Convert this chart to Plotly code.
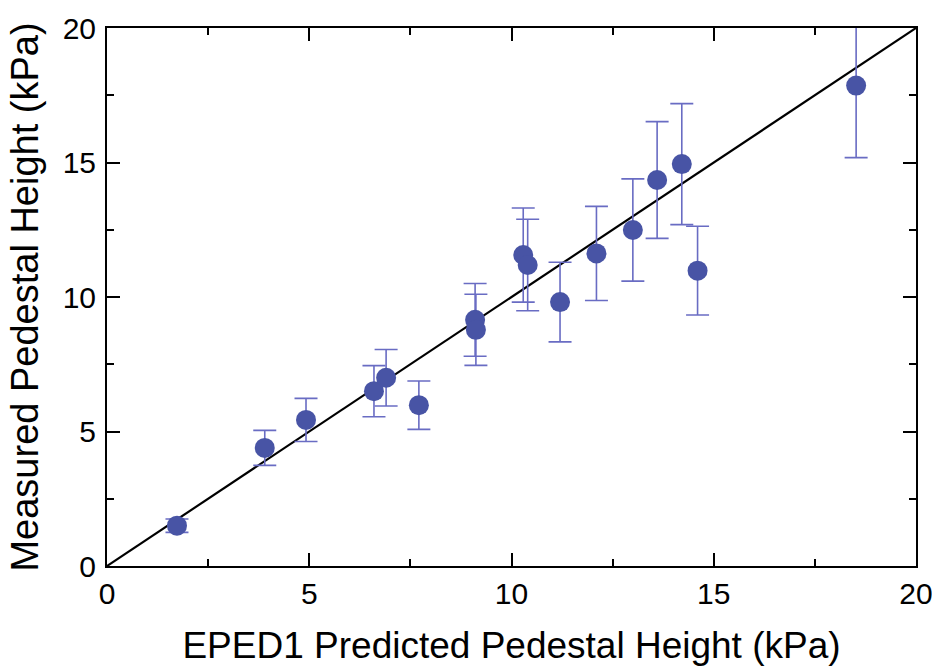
import plotly.graph_objects as go

predicted = [1.73, 3.9, 4.92, 6.6, 6.9, 7.71, 9.1, 9.12, 10.29, 10.4, 11.2, 12.1, 13.0, 13.6, 14.21, 14.6, 18.52]
measured = [1.5, 4.39, 5.43, 6.5, 7.0, 5.98, 9.15, 8.78, 11.56, 11.19, 9.81, 11.62, 12.49, 14.35, 14.94, 10.98, 17.86]
errors = [0.25, 0.65, 0.8, 0.95, 1.05, 0.9, 1.35, 1.32, 1.75, 1.7, 1.48, 1.75, 1.9, 2.17, 2.25, 1.65, 2.68]
line_x = [0, 20]
line_y = [0, 20]

FONT = "Liberation Sans, Arial, Helvetica, sans-serif"

fig = go.Figure()
fig.add_trace(go.Scatter(
    x=line_x, y=line_y, mode="lines",
    line=dict(color="black", width=2.2), showlegend=False, hoverinfo="skip"))
fig.add_trace(go.Scatter(
    x=predicted, y=measured, mode="markers",
    marker=dict(size=20, color="rgb(72,84,165)"),
    error_y=dict(type="data", array=errors, visible=True,
                 color="rgb(105,108,195)", thickness=1.6, width=11.5),
    showlegend=False, cliponaxis=True))

axis_common = dict(
    range=[0, 20], tick0=0, dtick=5, ticks="inside", ticklen=13, tickwidth=2,
    tickcolor="black", showline=True, linewidth=2, linecolor="black",
    mirror="ticks", showgrid=False, zeroline=False, automargin=False,
    ticklabeloverflow="allow",
    tickfont=dict(family=FONT, size=30, color="black"),
    minor=dict(dtick=2.5, tick0=0, ticks="inside", ticklen=7, tickwidth=2, tickcolor="black", showgrid=False),
)

fig.update_layout(
    width=932, height=666,
    margin=dict(l=107, r=16, t=28, b=100),
    plot_bgcolor="white", paper_bgcolor="white",
    xaxis=dict(**axis_common,
               title=dict(text="EPED1 Predicted Pedestal Height (kPa)",
                          font=dict(family=FONT, size=37, color="black"),
                          standoff=38),
               ticklabelstandoff=0),
    yaxis=dict(**axis_common,
               title=dict(text="Measured Pedestal Height (kPa)",
                          font=dict(family=FONT, size=38, color="black"),
                          standoff=12),
               ticklabelstandoff=3),
)

fig.write_html("out.html")
